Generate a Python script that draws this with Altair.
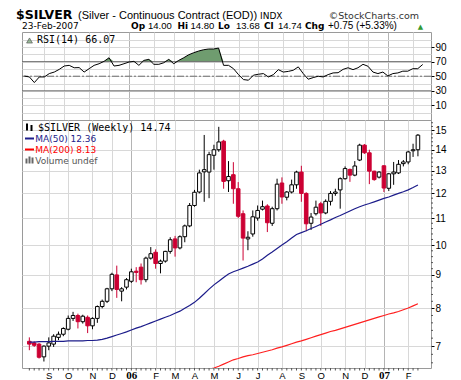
import altair as alt
import pandas as pd

# ---------------- data ----------------
dates = pd.date_range("2005-08-08", periods=81, freq="7D").strftime("%Y-%m-%d").tolist()

opens = [7.12, 7.08, 7.05, 6.74, 7.00, 7.05, 7.22, 7.30, 7.43, 7.72,
         7.80, 7.63, 7.75, 7.52, 7.72, 8.05, 8.20, 8.57, 9.00, 8.50,
         8.62, 8.80, 9.12, 9.25, 8.85, 9.55, 9.75, 9.37, 9.45, 9.78,
         10.22, 9.90, 10.30, 10.70, 11.50, 12.06, 12.95, 12.94, 13.73, 14.00,
         14.43, 12.55, 12.82, 12.20, 11.17, 10.22, 10.40, 11.00, 11.35, 11.48,
         10.80, 11.37, 12.45, 11.84, 12.06, 12.37, 12.94, 12.00, 10.80, 11.17,
         11.57, 11.20, 11.67, 12.00, 12.15, 12.64, 13.06, 12.80, 13.50, 14.23,
         13.85, 12.98, 12.71, 13.23, 12.22, 12.86, 12.90, 13.33, 13.41, 13.95,
         14.00]
highs = [7.22, 7.12, 7.08, 7.02, 7.22, 7.30, 7.37, 7.48, 7.80, 7.90,
         7.85, 7.82, 7.80, 7.75, 8.08, 8.25, 8.60, 9.07, 9.30, 8.62,
         8.90, 9.20, 9.25, 9.37, 9.60, 9.93, 9.85, 9.50, 9.80, 10.28,
         10.33, 10.35, 10.75, 11.60, 12.15, 13.05, 14.75, 13.90, 14.25, 15.18,
         14.50, 13.45, 13.40, 12.49, 11.30, 10.50, 11.30, 11.50, 11.70, 11.55,
         11.45, 12.64, 12.70, 12.10, 12.60, 13.00, 13.23, 12.05, 11.20, 11.70,
         11.65, 11.75, 12.10, 12.20, 12.70, 13.20, 13.10, 13.45, 14.30, 14.28,
         14.00, 13.00, 12.98, 13.25, 12.90, 13.41, 13.50, 13.50, 13.95, 14.30,
         14.80]
lows = [6.90, 6.98, 6.70, 6.63, 6.90, 6.98, 7.15, 7.25, 7.40, 7.65,
        7.45, 7.58, 7.33, 7.43, 7.60, 8.00, 8.15, 8.50, 8.30, 8.20,
        8.55, 8.75, 8.77, 8.70, 8.77, 9.50, 9.20, 9.05, 9.40, 9.70,
        9.60, 9.85, 10.10, 10.65, 11.45, 12.00, 11.65, 11.80, 13.05, 13.90,
        12.20, 12.06, 11.57, 11.00, 9.47, 9.82, 10.30, 10.90, 11.30, 10.47,
        10.70, 11.30, 11.57, 11.71, 12.00, 12.20, 11.65, 10.50, 10.55, 11.10,
        10.70, 11.15, 11.50, 11.90, 11.37, 12.60, 12.50, 12.75, 13.45, 13.80,
        12.40, 12.55, 12.65, 12.06, 12.10, 12.37, 12.85, 13.20, 13.30, 13.65,
        13.68]
closes = [7.05, 7.02, 6.73, 7.00, 7.08, 7.25, 7.30, 7.45, 7.72, 7.80,
          7.63, 7.78, 7.52, 7.72, 8.05, 8.20, 8.57, 9.02, 8.55, 8.57,
          8.85, 9.10, 9.08, 8.85, 9.55, 9.70, 9.37, 9.45, 9.78, 10.19,
          9.90, 10.30, 10.70, 11.50, 12.05, 12.90, 13.05, 13.76, 14.00, 14.39,
          12.52, 12.74, 12.20, 11.07, 10.25, 10.28, 11.05, 11.30, 11.45, 10.82,
          11.37, 12.40, 11.85, 12.06, 12.37, 12.94, 12.00, 10.78, 11.04, 11.43,
          11.20, 11.67, 12.00, 12.06, 12.64, 13.10, 12.80, 13.22, 14.23, 13.85,
          12.98, 12.60, 12.94, 12.23, 12.86, 12.94, 13.30, 13.41, 13.89, 14.00,
          14.74]
ma50 = [7.10, 7.10, 7.11, 7.11, 7.11, 7.12, 7.12, 7.12, 7.13, 7.13,
        7.13, 7.13, 7.14, 7.14, 7.15, 7.17, 7.20, 7.24, 7.28, 7.32,
        7.36, 7.41, 7.46, 7.50, 7.55, 7.60, 7.65, 7.70, 7.75, 7.80,
        7.86, 7.92, 8.00, 8.08, 8.17, 8.29, 8.42, 8.56, 8.69, 8.80,
        8.92, 9.03, 9.10, 9.16, 9.22, 9.28, 9.35, 9.42, 9.52, 9.65,
        9.76, 9.88, 10.00, 10.12, 10.25, 10.38, 10.45, 10.52, 10.60, 10.68,
        10.76, 10.85, 10.93, 11.02, 11.10, 11.19, 11.28, 11.37, 11.45, 11.52,
        11.58, 11.65, 11.72, 11.79, 11.85, 11.93, 12.00, 12.07, 12.15, 12.25,
        12.36]
ma200_start = 36
ma200 = [6.42, 6.45, 6.48, 6.52, 6.57, 6.62, 6.67, 6.70, 6.74, 6.77,
         6.79, 6.82, 6.85, 6.88, 6.91, 6.95, 6.98, 7.02, 7.06, 7.10,
         7.13, 7.17, 7.21, 7.25, 7.29, 7.33, 7.37, 7.40, 7.44, 7.48,
         7.52, 7.56, 7.60, 7.64, 7.68, 7.72, 7.76, 7.80, 7.84, 7.87,
         7.91, 7.96, 8.01, 8.07, 8.13]
rsi = [50.2, 49.0, 41.3, 49.0, 49.0, 53.6, 55.7, 59.4, 64.0, 64.9,
       61.6, 61.8, 55.7, 60.3, 64.9, 67.1, 70.4, 75.3, 64.0, 64.9,
       67.1, 69.4, 70.4, 64.9, 71.7, 73.1, 66.3, 66.3, 68.5, 73.1,
       67.1, 71.7, 75.3, 79.4, 82.2, 84.5, 86.3, 87.3, 87.3, 88.6,
       64.9, 64.9, 60.3, 52.2, 45.4, 44.5, 51.4, 52.7, 53.6, 49.0,
       52.2, 59.0, 55.7, 56.6, 58.2, 62.8, 53.6, 45.9, 48.1, 50.0,
       49.0, 52.2, 54.5, 54.8, 59.4, 61.6, 59.0, 61.6, 66.3, 63.7,
       55.7, 53.6, 55.7, 50.4, 53.6, 54.5, 56.9, 56.9, 60.3, 60.3,
       66.07]
month_start_bars = [4, 8, 13, 17, 21, 26, 30, 34, 38, 43, 47, 52, 56, 60, 65, 69, 73, 78]
price_ticks = [7, 8, 9, 10, 11, 12, 13, 14, 15]
rsi_grid = [0, 10, 20, 30, 40, 50, 60, 70, 80, 90, 100]
rsi_bands = [30, 70]
minor_price_ticks = [6.6, 6.8, 7.2, 7.4, 7.6, 7.8, 8.2, 8.4, 8.6, 8.8,
                     9.2, 9.4, 9.6, 9.8, 10.2, 10.4, 10.6, 10.8, 11.2, 11.4,
                     11.6, 11.8, 12.2, 12.4, 12.6, 12.8, 13.2, 13.4, 13.6, 13.8,
                     14.2, 14.4, 14.6, 14.8, 15.2, 15.4]

# ---------------- frames ----------------
df = pd.DataFrame({
    "date": dates, "open": opens, "high": highs, "low": lows, "close": closes,
    "ma50": ma50, "ma200": [None] * ma200_start + ma200, "rsi": rsi,
})
df["dir"] = ["up" if c >= o else "down" for o, c in zip(opens, closes)]


def ms(s):
    return int(pd.Timestamp(s, tz="UTC").value // 10**6)


month_ms = [ms(dates[i]) for i in month_start_bars]
x_scale = alt.Scale(type="utc", domain=[ms("2005-08-04 15:00"), ms("2007-03-02 15:00")])
price_scale = alt.Scale(type="log", domain=[6.48, 15.55], nice=False)
rsi_scale = alt.Scale(domain=[-10, 110.6], nice=False, zero=False)

is_jan = "utcmonth(datum.value)==0"
grid_color = {"condition": {"test": is_jan, "value": "#b4b4b4"}, "value": "#d8d8d8"}

one = pd.DataFrame({"k": [0]})
W = 409
RED = "#cc0033"
GREEN = "#6f9c6f"
NAVY = "#1c1c8a"


def txt(s, x, y, size=9, weight="normal", font="DejaVu Sans", color="black", align="left"):
    return alt.Chart(one).mark_text(
        text=s, align=align, baseline="alphabetic", fontSize=size,
        fontWeight=weight, font=font, color=color
    ).encode(x=alt.value(x), y=alt.value(y))


# ---------------- RSI panel ----------------
rsi_x_axis = alt.Axis(values=month_ms, labels=False, ticks=False, domain=False,
                      grid=True, gridColor=grid_color, title=None)
rsi_y_axis = alt.Axis(orient="right", values=rsi_grid, title=None, grid=True,
                      gridColor="#d8d8d8", domain=False, tickSize=3, tickColor="#000",
                      tickOpacity={"condition": {"test": "datum.value % 20 == 0", "value": 0}, "value": 1},
                      labelExpr="datum.value % 20 == 10 ? datum.label : ''",
                      labelFont="Liberation Sans", labelFontSize=10,
                      labelPadding=1, labelColor="#000")

rsi_area = alt.Chart(df).transform_calculate(
    hi="max(datum.rsi, 70)", lo="70"
).mark_area(color=GREEN, opacity=1).encode(
    x=alt.X("date:T", scale=x_scale, axis=rsi_x_axis),
    y=alt.Y("hi:Q", scale=rsi_scale, axis=rsi_y_axis),
    y2="lo:Q",
)
rsi_bandlines = alt.Chart(pd.DataFrame({"lvl": rsi_bands})).mark_rule(
    color="#6e6e6e", strokeWidth=1
).encode(y=alt.Y("lvl:Q", scale=rsi_scale, axis=rsi_y_axis))
rsi_mid = alt.Chart(pd.DataFrame({"lvl": [50]})).mark_rule(
    color="#6e6e6e", strokeWidth=1, strokeDash=[7, 2, 2, 2]
).encode(y=alt.Y("lvl:Q", scale=rsi_scale, axis=rsi_y_axis))
rsi_line = alt.Chart(df).mark_line(color="black", strokeWidth=1).encode(
    x=alt.X("date:T", scale=x_scale, axis=rsi_x_axis),
    y=alt.Y("rsi:Q", scale=rsi_scale, axis=rsi_y_axis),
)
rsi_icon = alt.Chart(one).mark_point(
    shape="triangle-up", filled=True, fill=GREEN, stroke="black", strokeWidth=0.6, size=35
).encode(x=alt.value(7.5), y=alt.value(8.5))

VF = "Liberation Sans"
header = [
    txt("$SILVER", -6, -13.3, size=12.5, weight="bold"),
    txt("(Silver - Continuous Contract (EOD))", 56, -13.3, size=11, font="Liberation Sans"),
    txt("INDX", 238, -13.3, size=9),
    txt("\u00a9StockCharts.com", 397, -13.3, size=9.5, color="#333333", align="right"),
    txt("23-Feb-2007", 0, -2.7, size=9),
    txt("Op", 109, -2.7, size=9, weight="bold"),
    txt("14.00", 126, -2.7, size=9.5, font=VF),
    txt("Hi", 155.5, -2.7, size=9, weight="bold"),
    txt("14.80", 168.5, -2.7, size=9.5, font=VF),
    txt("Lo", 196, -2.7, size=9, weight="bold"),
    txt("13.68", 214, -2.7, size=9.5, font=VF),
    txt("Cl", 242, -2.7, size=9, weight="bold"),
    txt("14.74", 256, -2.7, size=9.5, font=VF),
    txt("Chg", 283, -2.7, size=9, weight="bold"),
    txt("+0.75 (+5.33%)", 306, -2.7, size=10, font=VF),
    txt("\u25b2", 398.5, -3.5, size=7, color="#339933", align="center"),
    txt("RSI(14) 66.07", 15, 11, size=10, font="DejaVu Sans Mono"),
]

rsi_panel = alt.layer(
    rsi_area, rsi_bandlines, rsi_mid, rsi_line, rsi_icon, *header
).properties(width=W, height=88)

# ---------------- price panel ----------------
main_x_axis = alt.Axis(
    values=month_ms, title=None, grid=True, gridColor=grid_color,
    tickSize=0, domain=False, labelPadding=7, labelBaseline="middle",
    labelExpr="utcmonth(datum.value)==0 ? utcFormat(datum.value,'%y') : slice(utcFormat(datum.value,'%b'),0,1)",
    labelFont={"condition": {"test": is_jan, "value": "Liberation Serif"}, "value": "Liberation Sans"},
    labelFontSize={"condition": {"test": is_jan, "value": 11}, "value": 9.5},
    labelFontWeight={"condition": {"test": is_jan, "value": "bold"}, "value": "normal"},
    labelColor="#000")
main_y_axis = alt.Axis(orient="right", values=price_ticks, title=None, grid=True,
                       gridColor="#d8d8d8", domain=False, tickSize=3, tickColor="#000",
                       labelFont="Liberation Sans", labelFontSize=10, labelPadding=1,
                       labelColor="#000")
mx = lambda: alt.X("date:T", scale=x_scale, axis=main_x_axis)
my = lambda f: alt.Y(f, scale=price_scale, axis=main_y_axis)

dir_color = alt.Color("dir:N", scale=alt.Scale(domain=["up", "down"], range=["#000000", RED]), legend=None)

wicks = alt.Chart(df).mark_rule(strokeWidth=1).encode(
    x=mx(), y=my("low:Q"), y2="high:Q", color=dir_color,
)
bodies = alt.Chart(df).mark_bar(size=3.6, strokeWidth=1).encode(
    x=mx(), y=my("open:Q"), y2="close:Q",
    fill=alt.Fill("dir:N", scale=alt.Scale(domain=["up", "down"], range=["#ffffff", RED]), legend=None),
    stroke=alt.Stroke("dir:N", scale=alt.Scale(domain=["up", "down"], range=["#000000", RED]), legend=None),
)
ma50_line = alt.Chart(df).mark_line(color=NAVY, strokeWidth=1.2).encode(x=mx(), y=my("ma50:Q"))
ma200_line = alt.Chart(df).mark_line(color="#ff2020", strokeWidth=1.2, clip=True).encode(x=mx(), y=my("ma200:Q"))
week_ticks = alt.Chart(df).mark_rule(color="#555555", strokeWidth=1).encode(
    x=mx(), y=alt.value(248), y2=alt.value(250.5),
)
minor_ticks = alt.Chart(pd.DataFrame({"v": minor_price_ticks})).mark_rule(
    color="#555555", strokeWidth=1
).encode(y=my("v:Q"), x=alt.value(W), x2=alt.value(W + 2))

legend = [
    alt.Chart(one).mark_rule(color="black", strokeWidth=2).encode(x=alt.value(5), y=alt.value(3.5), y2=alt.value(10.5)),
    alt.Chart(one).mark_rule(color="black", strokeWidth=2).encode(x=alt.value(9.5), y=alt.value(5), y2=alt.value(11)),
    txt("$SILVER (Weekly) 14.74", 16, 11, size=10, font="DejaVu Sans Mono"),
    alt.Chart(one).mark_rule(color=NAVY, strokeWidth=2).encode(x=alt.value(3), x2=alt.value(12), y=alt.value(18.5)),
    txt("MA(50) 12.36", 13.3, 21.5, size=9, color=NAVY),
    alt.Chart(one).mark_rule(color="#ff0000", strokeWidth=2).encode(x=alt.value(3), x2=alt.value(12), y=alt.value(29.5)),
    txt("MA(200) 8.13", 13.3, 32.5, size=9, color="#ff0000"),
    alt.Chart(one).mark_rule(color="#666666", strokeWidth=2).encode(x=alt.value(4.5), y=alt.value(38.5), y2=alt.value(43.5)),
    alt.Chart(one).mark_rule(color="#666666", strokeWidth=2).encode(x=alt.value(7.5), y=alt.value(36.5), y2=alt.value(43.5)),
    alt.Chart(one).mark_rule(color="#666666", strokeWidth=2).encode(x=alt.value(10.5), y=alt.value(37.5), y2=alt.value(43.5)),
    txt("Volume undef", 13.3, 43.5, size=9, color="#555555"),
]

price_panel = alt.layer(
    wicks, bodies, ma50_line, ma200_line, week_ticks, minor_ticks, *legend
).properties(width=W, height=248)

chart = alt.vconcat(rsi_panel, price_panel, spacing=0, bounds="flush").properties(
    padding={"left": 7, "top": 0, "right": 0, "bottom": 0}
).configure_view(stroke="#9a9a9a", strokeWidth=1)

chart.save("out.html", embed_options={"renderer": "svg", "actions": False})
